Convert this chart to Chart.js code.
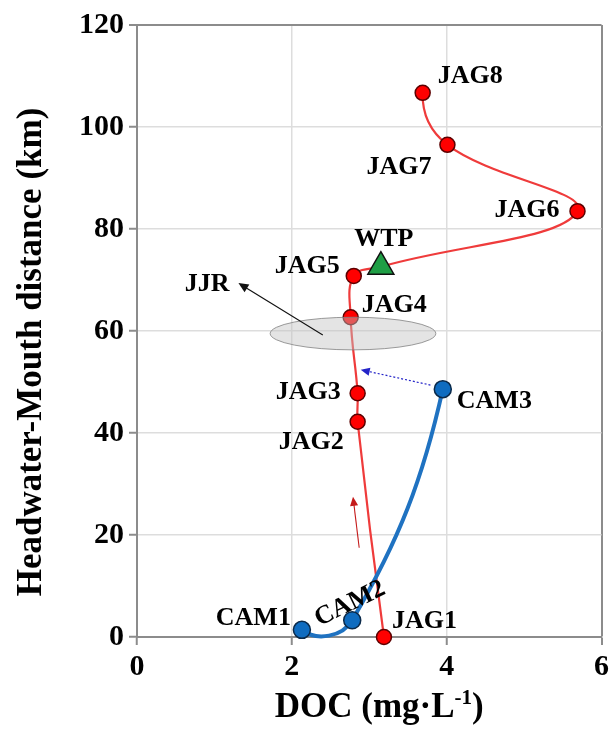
<!DOCTYPE html>
<html>
<head>
<meta charset="utf-8">
<script src="https://cdn.jsdelivr.net/npm/chart.js@4.4.1/dist/chart.umd.min.js"></script>
<style>
  html, body { margin: 0; padding: 0; background: #fff; }
  #wrap { width: 613px; height: 738px; }
</style>
</head>
<body>
<div id="wrap"><canvas id="c" width="613" height="738"></canvas></div>
<script>
// Main stem (Jaguari) stations: DOC (mg/L) against headwater-mouth distance (km)
const jagStations = ['JAG1', 'JAG2', 'JAG3', 'JAG4', 'JAG5', 'WTP', 'JAG6', 'JAG7', 'JAG8'];
const jagDoc      = [3.19, 2.85, 2.85, 2.76, 2.80, 3.15, 5.69, 4.01, 3.69];
const jagDist     = [0.0, 42.2, 47.8, 62.7, 70.8, 72.6, 83.5, 96.5, 106.7];

// Tributary (Camanducaia) stations
const camStations = ['CAM1', 'CAM2', 'CAM3'];
const camDoc      = [2.13, 2.78, 3.95];
const camDist     = [1.4, 3.3, 48.6];

// Axis ticks
const xTicks = [0, 2, 4, 6];
const yTicks = [0, 20, 40, 60, 80, 100, 120];

// Confluence zone and flow arrows (data units)
const jjrZone   = { x: 2.79, y: 59.5, rx: 1.07, ry: 3.2 };
const jjrArrow  = { from: [2.40, 59.2], to: [1.31, 69.4] };
const camArrow  = { from: [3.79, 49.4], to: [2.89, 52.4] };
const flowArrow = { from: [2.87, 17.5], to: [2.79, 27.5] };

const SERIF = '"Liberation Serif", "Times New Roman", serif';

// Label offsets from each marker: [dx, dy (cap centre), align, rotation deg]
const labelPlacement = {
  JAG1: [8, -18, 'left'],
  JAG2: [-14, 19, 'right'],
  JAG3: [-17, -3, 'right'],
  JAG4: [11, -14, 'left'],
  JAG5: [-14, -12, 'right'],
  WTP:  [3, -29, 'center'],
  JAG6: [-18, -3, 'right'],
  JAG7: [-16, 21, 'right'],
  JAG8: [15, -18, 'left'],
  CAM1: [-11, -13, 'right'],
  CAM2: [-3, -18, 'center', -26],
  CAM3: [14, 10, 'left']
};

const toPoints = (xs, ys) => xs.map((x, i) => ({ x, y: ys[i] }));

// Reflect c across the perpendicular bisector of segment p0-p1
function mirror(p0, p1, c) {
  const dx = p1.x - p0.x, dy = p1.y - p0.y;
  const L2 = dx * dx + dy * dy || 1;
  const mx = (p0.x + p1.x) / 2, my = (p0.y + p1.y) / 2;
  const t = ((c.x - mx) * dx + (c.y - my) * dy) / L2;
  return { x: c.x - 2 * t * dx, y: c.y - 2 * t * dy };
}

// Spreadsheet-style smoothing at the open ends of each curve
const smoothEnds = {
  id: 'smoothEnds',
  beforeDatasetDraw(chart, args) {
    const meta = args.meta;
    const line = meta.dataset;
    if (!line || !line.updateControlPoints) return;
    line.updateControlPoints(chart.chartArea, meta.iScale.axis);
    const pts = line.points;
    const n = pts.length;
    if (n < 3) return;
    const a = mirror(pts[0], pts[1], { x: pts[1].cp1x, y: pts[1].cp1y });
    pts[0].cp2x = a.x; pts[0].cp2y = a.y;
    const b = mirror(pts[n - 1], pts[n - 2], { x: pts[n - 2].cp2x, y: pts[n - 2].cp2y });
    pts[n - 1].cp1x = b.x; pts[n - 1].cp1y = b.y;
    line._path = undefined;
  }
};

function arrow(ctx, x0, y0, x1, y1, color, width, dash, head) {
  const ang = Math.atan2(y1 - y0, x1 - x0);
  ctx.save();
  ctx.strokeStyle = color;
  ctx.fillStyle = color;
  ctx.lineWidth = width;
  ctx.setLineDash(dash || []);
  ctx.beginPath();
  ctx.moveTo(x0, y0);
  ctx.lineTo(x1 - Math.cos(ang) * head * 0.6, y1 - Math.sin(ang) * head * 0.6);
  ctx.stroke();
  ctx.setLineDash([]);
  ctx.beginPath();
  ctx.moveTo(x1, y1);
  ctx.lineTo(x1 - head * Math.cos(ang) + head * 0.45 * Math.sin(ang),
             y1 - head * Math.sin(ang) - head * 0.45 * Math.cos(ang));
  ctx.lineTo(x1 - head * Math.cos(ang) - head * 0.45 * Math.sin(ang),
             y1 - head * Math.sin(ang) + head * 0.45 * Math.cos(ang));
  ctx.closePath();
  ctx.fill();
  ctx.restore();
}

// Plot frame, confluence ellipse, arrows, station labels and axis titles
const decorations = {
  id: 'decorations',
  afterDatasetsDraw(chart) {
    const { ctx, chartArea: ca, scales: { x, y } } = chart;
    const px = v => x.getPixelForValue(v);
    const py = v => y.getPixelForValue(v);

    // JJR confluence ellipse
    ctx.save();
    ctx.beginPath();
    ctx.ellipse(px(jjrZone.x), py(jjrZone.y),
      Math.abs(px(jjrZone.x + jjrZone.rx) - px(jjrZone.x)),
      Math.abs(py(jjrZone.y + jjrZone.ry) - py(jjrZone.y)), 0, 0, Math.PI * 2);
    ctx.fillStyle = 'rgba(195,195,195,0.45)';
    ctx.fill();
    ctx.strokeStyle = 'rgba(130,130,130,0.8)';
    ctx.lineWidth = 1;
    ctx.stroke();
    ctx.restore();

    arrow(ctx, px(jjrArrow.from[0]), py(jjrArrow.from[1]), px(jjrArrow.to[0]), py(jjrArrow.to[1]), '#111', 1.1, null, 10);
    arrow(ctx, px(camArrow.from[0]), py(camArrow.from[1]), px(camArrow.to[0]), py(camArrow.to[1]), '#2424c8', 1.2, [2, 2], 9);
    arrow(ctx, px(flowArrow.from[0]), py(flowArrow.from[1]), px(flowArrow.to[0]), py(flowArrow.to[1]), '#c41a1a', 1.1, null, 9);

    // Station labels
    ctx.save();
    ctx.fillStyle = '#000';
    ctx.font = 'bold 26px ' + SERIF;
    const capHalf = 26 * 0.33;
    const drawNames = (dsIndex, names) => {
      const meta = chart.getDatasetMeta(dsIndex);
      names.forEach((name, i) => {
        const el = meta.data[i];
        const p = labelPlacement[name];
        if (!el || !p) return;
        ctx.save();
        ctx.translate(el.x + p[0], el.y + p[1]);
        if (p[3]) ctx.rotate(p[3] * Math.PI / 180);
        ctx.textAlign = p[2];
        ctx.textBaseline = 'alphabetic';
        ctx.fillText(name, 0, capHalf);
        ctx.restore();
      });
    };
    drawNames(0, camStations);
    drawNames(1, jagStations);
    ctx.textAlign = 'right';
    ctx.textBaseline = 'alphabetic';
    ctx.fillText('JJR', px(jjrArrow.to[0]) - 9, py(jjrArrow.to[1]) - 1 + capHalf);
    ctx.restore();

    // Axis titles
    ctx.save();
    ctx.fillStyle = '#000';
    const big = 'bold 35px ' + SERIF;
    const sup = 'bold 21px ' + SERIF;
    const parts = [['DOC (mg\u00B7L', big, 0], ['-1', sup, -13], [')', big, 0]];
    let total = 0;
    parts.forEach(pt => { ctx.font = pt[1]; total += ctx.measureText(pt[0]).width; });
    let cx = (ca.left + ca.right) / 2 + 10 - total / 2;
    const base = 717;
    ctx.textAlign = 'left';
    ctx.textBaseline = 'alphabetic';
    parts.forEach(pt => {
      ctx.font = pt[1];
      ctx.fillText(pt[0], cx, base + pt[2]);
      cx += ctx.measureText(pt[0]).width;
    });
    ctx.translate(41, (ca.top + ca.bottom) / 2 + 21);
    ctx.rotate(-Math.PI / 2);
    ctx.font = big;
    ctx.textAlign = 'center';
    ctx.fillText('Headwater-Mouth distance (km)', 0, 0);
    ctx.restore();
  }
};

const AXIS_GREY = '#8c8c8c';
const GRID_GREY = '#dddddd';
const tickFont = { family: SERIF, size: 30, weight: 'bold' };

new Chart(document.getElementById('c'), {
  type: 'line',
  data: {
    datasets: [
      {
        label: 'CAM',
        data: toPoints(camDoc, camDist),
        borderColor: '#1f72c1',
        borderWidth: 4,
        tension: 0.4,
        pointRadius: 8.5,
        pointBackgroundColor: '#0f6cc0',
        pointBorderColor: '#0b2a4a',
        pointBorderWidth: 1.5,
        fill: false,
        clip: false
      },
      {
        label: 'JAG',
        data: toPoints(jagDoc, jagDist),
        borderColor: '#ef3b3b',
        borderWidth: 2.2,
        tension: 0.4,
        pointStyle: jagStations.map(n => n === 'WTP' ? 'triangle' : 'circle'),
        pointRadius: jagStations.map(n => n === 'WTP' ? 15 : 7.5),
        pointBackgroundColor: jagStations.map(n => n === 'WTP' ? '#1f9e45' : '#ff0000'),
        pointBorderColor: jagStations.map(n => n === 'WTP' ? '#111' : '#5c0000'),
        pointBorderWidth: 1.5,
        fill: false,
        clip: false
      }
    ]
  },
  options: {
    responsive: false,
    animation: false,
    devicePixelRatio: 1,
    layout: { padding: { top: 25, right: 9, left: 0, bottom: 0 } },
    plugins: { legend: { display: false }, tooltip: { enabled: false } },
    events: [],
    scales: {
      x: {
        type: 'linear',
        position: 'bottom',
        min: 0, max: 6,
        afterBuildTicks: s => { s.ticks = xTicks.map(v => ({ value: v })); },
        afterFit: s => { s.height = 101; },
        grid: {
          color: c => (c.tick && c.tick.value === 6) ? AXIS_GREY : GRID_GREY,
          lineWidth: c => (c.tick && c.tick.value === 6) ? 2 : 1.5,
          tickColor: AXIS_GREY,
          tickLength: 8,
          tickWidth: 2
        },
        border: { color: AXIS_GREY, width: 2 },
        ticks: { font: tickFont, color: '#000', padding: 4, maxRotation: 0, autoSkip: false }
      },
      y: {
        type: 'linear',
        position: 'left',
        min: 0, max: 120,
        afterBuildTicks: s => { s.ticks = yTicks.map(v => ({ value: v })); },
        afterFit: s => { s.width = 137; },
        grid: {
          color: c => (c.tick && c.tick.value === 120) ? AXIS_GREY : GRID_GREY,
          lineWidth: c => (c.tick && c.tick.value === 120) ? 2 : 1.5,
          tickColor: AXIS_GREY,
          tickLength: 8,
          tickWidth: 2
        },
        border: { color: AXIS_GREY, width: 2 },
        ticks: { font: tickFont, color: '#000', padding: 5, autoSkip: false }
      }
    }
  },
  plugins: [smoothEnds, decorations]
});
</script>
</body>
</html>
